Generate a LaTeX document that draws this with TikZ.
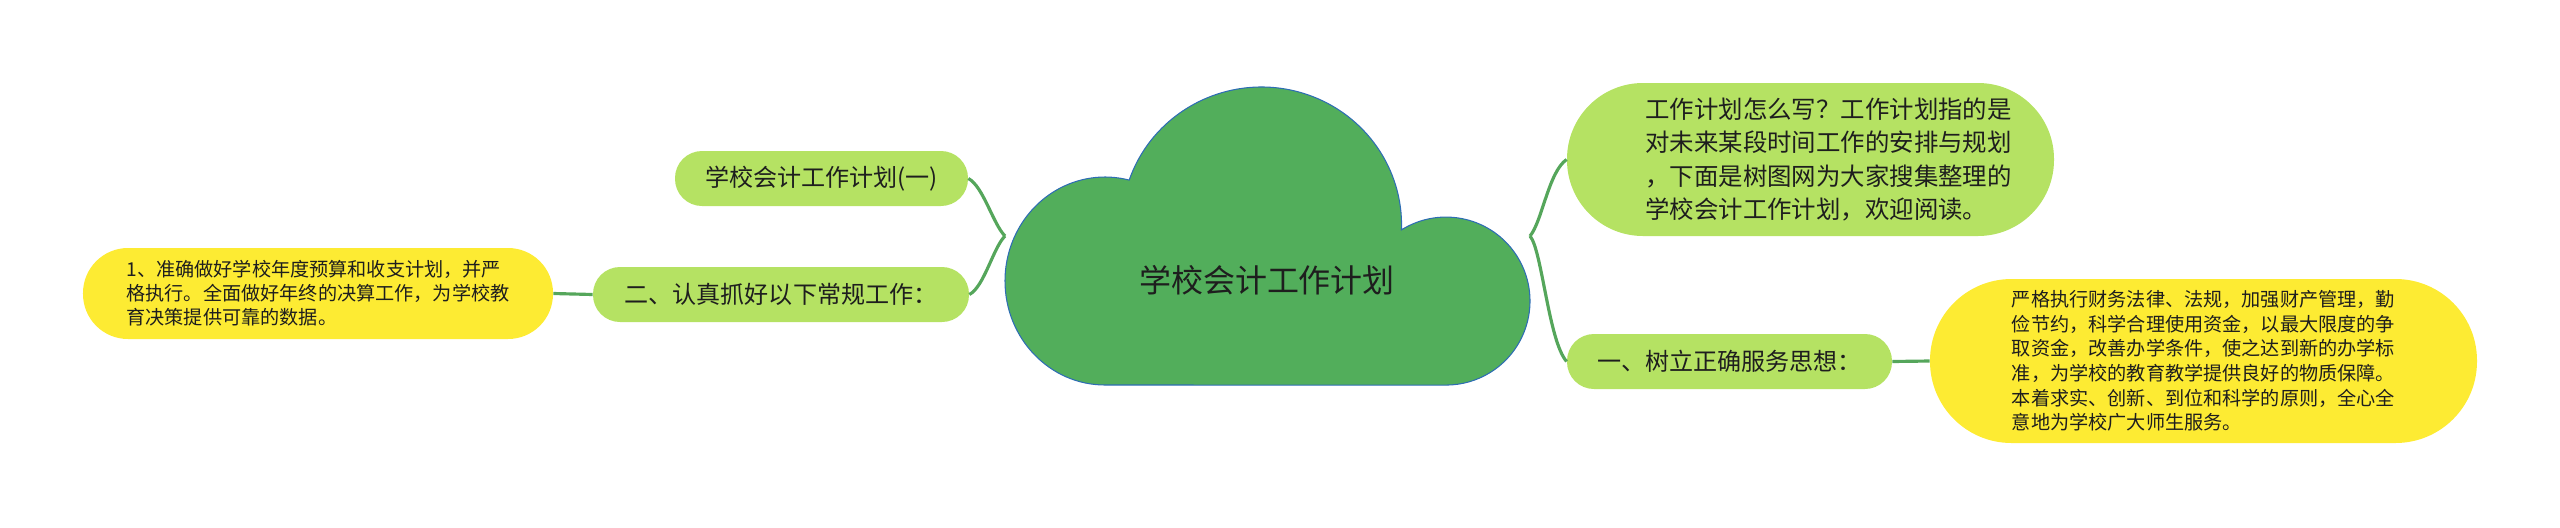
\documentclass[tikz,border=0pt]{standalone}
\usepackage{fontspec}
\newfontfamily\cjkfont{Noto Sans CJK SC}
\definecolor{cloudfill}{HTML}{52AE5B}
\definecolor{cloudedge}{HTML}{2E6DB4}
\definecolor{leafgreen}{HTML}{B5E263}
\definecolor{notefill}{HTML}{FDEB33}
\definecolor{linkgreen}{HTML}{55A65B}
\definecolor{textdark}{HTML}{1E1E1E}
\tikzset{
  topic/.style={fill=leafgreen, rounded corners=5.4mm, minimum height=11mm, inner sep=0pt,
    text=textdark, font=\cjkfont\fontsize{13.7}{16}\selectfont},
  note/.style={fill=notefill, inner sep=0pt, align=left, text=textdark,
    font=\cjkfont\fontsize{10.9}{14}\selectfont},
  link/.style={draw=linkgreen, line width=1.8pt},
}
\newcommand{\indentline}{\hspace*{7.2mm}}
\begin{document}
\begin{tikzpicture}[x=0.2mm,y=0.2mm]
    \useasboundingbox (0,0) rectangle (2560,-527);

    % cloud
    \draw[fill=cloudfill, draw=cloudedge, line width=0.6pt]
      (1105,-385) arc[start angle=270, end angle=76, x radius=100, y radius=104]
      arc[start angle=161, end angle=-2, x radius=140, y radius=138]
      arc[start angle=122, end angle=-90, radius=84] -- cycle;
    \node[text=textdark, font=\cjkfont\fontsize{18.2}{22}\selectfont] (root) at (1267,-280) {学校会计工作计划};

    \coordinate (ltip) at (1005,-236);
    \coordinate (rtip) at (1530,-236);

    % left
    \node[topic, minimum width=58.6mm] (plan) at (821.5,-178.5) {学校会计工作计划(一)};
    \node[topic, minimum width=75.2mm] (routine) at (781,-294.5) {二、认真抓好以下常规工作：};
    \node[note, minimum width=94mm, minimum height=18.2mm, rounded corners=9mm,
      font=\cjkfont\fontsize{10.9}{13.7}\selectfont] (budget) at (318,-293.5)
      {1、准确做好学校年度预算和收支计划，并严\\格执行。全面做好年终的决算工作，为学校教\\育决策提供可靠的数据。};

    \draw[link] (plan.east) .. controls +(15,-8) and +(-12,12) .. (ltip);
    \draw[link] (routine.east) .. controls +(15,8) and +(-12,-12) .. (ltip);
    \draw[link] (routine.west) -- (budget.east);

    % right
    \node[topic, align=left, minimum width=97.4mm, minimum height=30.6mm, rounded corners=15.2mm,
      font=\cjkfont\fontsize{13.9}{18.8}\selectfont] (intro) at (1810.5,-159.5)
      {\indentline 工作计划怎么写？工作计划指的是\\\indentline 对未来某段时间工作的安排与规划\\\indentline ，下面是树图网为大家搜集整理的\\\indentline 学校会计工作计划，欢迎阅读。};
    \node[topic, minimum width=65mm] (service) at (1729.5,-361.5) {一、树立正确服务思想：};
    \node[note, minimum width=109.4mm, minimum height=32.8mm, rounded corners=16.3mm] (rules) at (2203.5,-361)
      {严格执行财务法律、法规，加强财产管理，勤\\俭节约，科学合理使用资金，以最大限度的争\\取资金，改善办学条件，使之达到新的办学标\\准，为学校的教育教学提供良好的物质保障。\\本着求实、创新、到位和科学的原则，全心全\\意地为学校广大师生服务。};

    \draw[link] (rtip) .. controls +(12,14) and +(-18,-12) .. (intro.west);
    \draw[link] (rtip) .. controls +(12,-14) and +(-18,20) .. (service.west);
    \draw[link] (service.east) -- (rules.west);

\end{tikzpicture}
\end{document}
